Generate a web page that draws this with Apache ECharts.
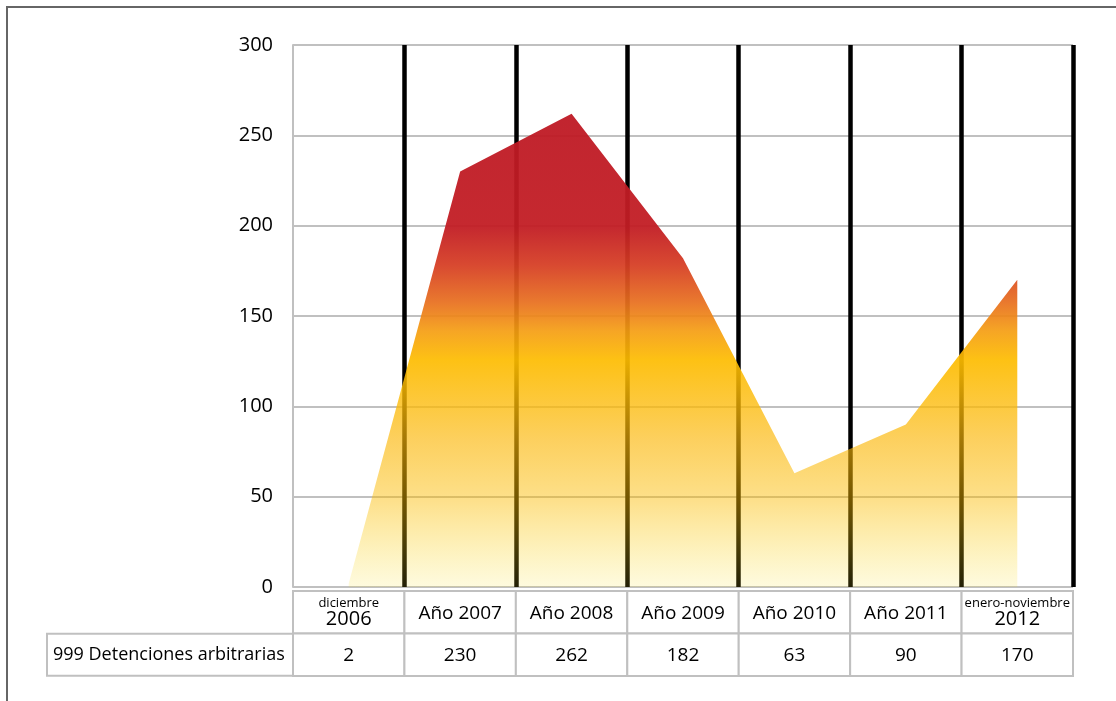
<!DOCTYPE html>
<html>
<head>
<meta charset="utf-8">
<script src="https://cdn.jsdelivr.net/npm/echarts@6/dist/echarts.min.js"></script>
<style>html,body{margin:0;padding:0;background:#fff}#c{width:1116px;height:701px}</style>
</head>
<body>
<div id="c"></div>
<script>
const categories = ['diciembre\n2006', 'Año 2007', 'Año 2008', 'Año 2009', 'Año 2010', 'Año 2011', 'enero-noviembre\n2012'];
const values = [2, 230, 262, 182, 63, 90, 170];
const seriesName = '999 Detenciones arbitrarias';
const yMin = 0, yMax = 300, yStep = 50;
const tableRows = ['labels', 'values'];

const FONT = '"Open Sans", "Noto Sans", sans-serif';
const TXT = '#000';
const GRID = '#c0c0c0';

const tableData = [];
categories.forEach((c, i) => { tableData.push([i, 0]); tableData.push([i, 1]); });

const chart = echarts.init(document.getElementById('c'), null, {renderer: 'canvas'});
chart.setOption({
  animation: false,
  backgroundColor: '#fff',
  graphic: [{
    type: 'rect', silent: true, z: 0,
    shape: {x: 7, y: 7, width: 1300, height: 900},
    style: {fill: 'none', stroke: '#666', lineWidth: 2}
  }],
  grid: [
    {left: 293, right: 43, top: 45, bottom: 114},
    {left: 293, right: 43, top: 591, height: 85}
  ],
  xAxis: [{
    type: 'category', gridIndex: 0, data: categories, boundaryGap: true,
    axisLine: {show: false}, axisTick: {show: false, interval: 0}, axisLabel: {show: false, interval: 0},
    splitLine: {show: true, interval: 0, showMinLine: false, lineStyle: {color: '#000', width: 4.5}}
  }, {
    type: 'category', gridIndex: 1, data: categories, boundaryGap: true,
    axisLine: {show: false}, axisTick: {show: false}, axisLabel: {show: false}, splitLine: {show: false}
  }],
  yAxis: [{
    type: 'value', gridIndex: 0, min: yMin, max: yMax, interval: yStep,
    axisLine: {show: true, lineStyle: {color: GRID, width: 2}}, axisTick: {show: false},
    axisLabel: {margin: 20, fontFamily: FONT, fontSize: 20, color: TXT},
    splitLine: {show: true, lineStyle: {color: GRID, width: 2}}
  }, {
    type: 'category', gridIndex: 1, data: tableRows, inverse: true,
    axisLine: {show: false}, axisTick: {show: false}, splitLine: {show: false},
    axisLabel: {
      margin: 245, align: 'left',
      formatter: v => v === 'values' ? '{h|' + seriesName + '}' : '',
      rich: {h: {fontFamily: FONT, fontSize: 18, color: TXT, width: 235, height: 40, lineHeight: 40,
        padding: [0, 5], borderColor: GRID, borderWidth: 2, backgroundColor: '#fff'}}
    }
  }],
  series: [{
    name: seriesName, type: 'line', xAxisIndex: 0, yAxisIndex: 0,
    data: values, showSymbol: false, symbol: 'none',
    lineStyle: {width: 0, opacity: 0},
    areaStyle: {
      opacity: 1,
      color: {type: 'linear', x: 0, y: 0, x2: 0, y2: 1, colorStops: [
        {offset: 0, color: 'rgba(190,25,36,0.95)'},
        {offset: 0.24, color: 'rgba(194,29,36,0.95)'},
        {offset: 0.32, color: 'rgba(214,62,36,0.94)'},
        {offset: 0.40, color: 'rgba(232,112,30,0.93)'},
        {offset: 0.46, color: 'rgba(245,158,18,0.92)'},
        {offset: 0.52, color: 'rgba(253,188,0,0.92)'},
        {offset: 0.69, color: 'rgba(251,183,9,0.65)'},
        {offset: 0.82, color: 'rgba(251,187,0,0.45)'},
        {offset: 1, color: 'rgba(248,222,35,0.15)'}
      ]}
    }
  }, {
    type: 'custom', xAxisIndex: 1, yAxisIndex: 1, data: tableData, silent: true,
    renderItem: function (params, api) {
      const ci = api.value(0), ri = api.value(1);
      const c = api.coord([ci, ri]);
      const s = api.size([1, 1]);
      let text, rich = null;
      if (ri === 0) {
        const parts = categories[ci].split('\n');
        if (parts.length > 1) {
          text = '{s|' + parts[0] + '}\n{b|' + parts[1] + '}';
          rich = {
            s: {fontFamily: FONT, fontSize: 13, lineHeight: 13, fill: TXT, color: TXT},
            b: {fontFamily: FONT, fontSize: 20, lineHeight: 19, fill: TXT, color: TXT}
          };
        } else {
          text = parts[0];
        }
      } else {
        text = String(values[ci]);
      }
      return {
        type: 'group',
        children: [{
          type: 'rect',
          shape: {x: c[0] - s[0] / 2, y: c[1] - s[1] / 2, width: s[0], height: s[1]},
          style: {fill: '#fff', stroke: GRID, lineWidth: 2}
        }, {
          type: 'text',
          style: Object.assign({
            text: text, x: c[0], y: c[1] + 1, align: 'center', verticalAlign: 'middle',
            fontFamily: FONT, fontSize: 19, fill: TXT
          }, rich ? {rich: rich} : {})
        }]
      };
    }
  }]
});
</script>
</body>
</html>
